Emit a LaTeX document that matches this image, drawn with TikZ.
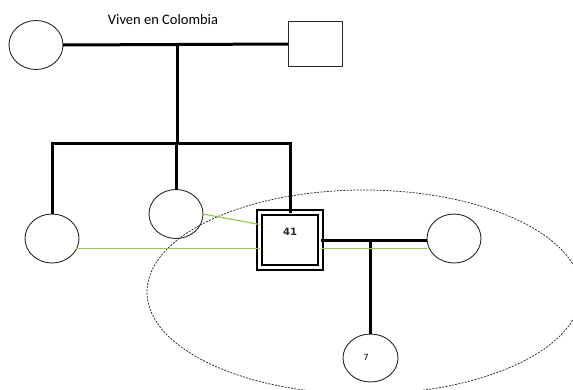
\documentclass[tikz,border=0pt]{standalone}
\usepackage{fontspec}
\setmainfont{Carlito}
\newfontfamily\numfont{DejaVu Sans}
\usetikzlibrary{shapes.geometric}
\definecolor{tie}{RGB}{146,208,80}
\definecolor{ink}{RGB}{40,40,40}
\begin{document}
\begin{tikzpicture}[x=1pt,y=-1pt,
  female/.style={ellipse,draw=ink,line width=0.9pt,inner sep=0pt,outer sep=0pt,
    minimum width=54pt,minimum height=49pt},
  male/.style={rectangle,draw=ink,line width=0.9pt,inner sep=0pt,outer sep=0pt,
    minimum width=54pt,minimum height=45pt},
  index/.style={rectangle,draw=black,line width=2.6pt,double=white,double distance=2.4pt,
    inner sep=0pt,outer sep=0pt,minimum width=61pt,minimum height=55pt},
  bond/.style={draw=black,line width=3pt},
  closeties/.style={draw=tie,line width=1.2pt},
  household/.style={draw=ink,line width=0.75pt,dash pattern=on 2pt off 1.3pt}]
\useasboundingbox (0,0) rectangle (573,389);

% household boundary, running off the page
\begin{scope}
  \clip (0,0) rectangle (573,389);
  \draw[household] (364,292) ellipse [x radius=217, y radius=102];
\end{scope}

% people
\node[female] (gm) at (36,45) {};
\node[male] (gf) at (315,44) {};
\node[female] (s1) at (52,238.5) {};
\node[female] (s2) at (176,214) {};
\node[index] (ego) at (290,240) {};
\node[font=\numfont\bfseries\fontsize{10}{12}\selectfont,text=ink] (egolbl) at (290,232) {41};
\node[female] (wife) at (454,238.5) {};
\node[female,minimum width=55pt,minimum height=48pt] (kid) at (370.5,358) {};
\node[font=\numfont\fontsize{8.5}{10}\selectfont,text=black] (kidlbl) at (366,357.5) {7};

\node[text=black,font=\fontsize{14.5}{16}\selectfont] (place) at (163,20) {Viven en Colombia};

% parents and their children
\coordinate (pm) at (177,45);
\coordinate (sib) at (177,143);
\draw[bond] (gm.east) -- (gf.west);
\draw[bond] (pm) -- (sib);
\draw[bond] (s1.north) -- (s1.north |- sib) -- (ego.north |- sib) -- (ego.north);
\draw[bond] (s2.north) -- (s2.north |- sib);

% couple and child
\draw[bond] (ego.east) -- (ego.east -| wife.west);
\draw[bond] (kid.north |- ego.east) -- (kid.north);

% close relationships
\draw[closeties] (s2.east) -- (ego.153);
\draw[closeties] (s1.-23) -- (ego.west |- s1.-23);
\draw[closeties] (ego.east |- s1.-23) -- (wife.west |- s1.-23);
\end{tikzpicture}
\end{document}
